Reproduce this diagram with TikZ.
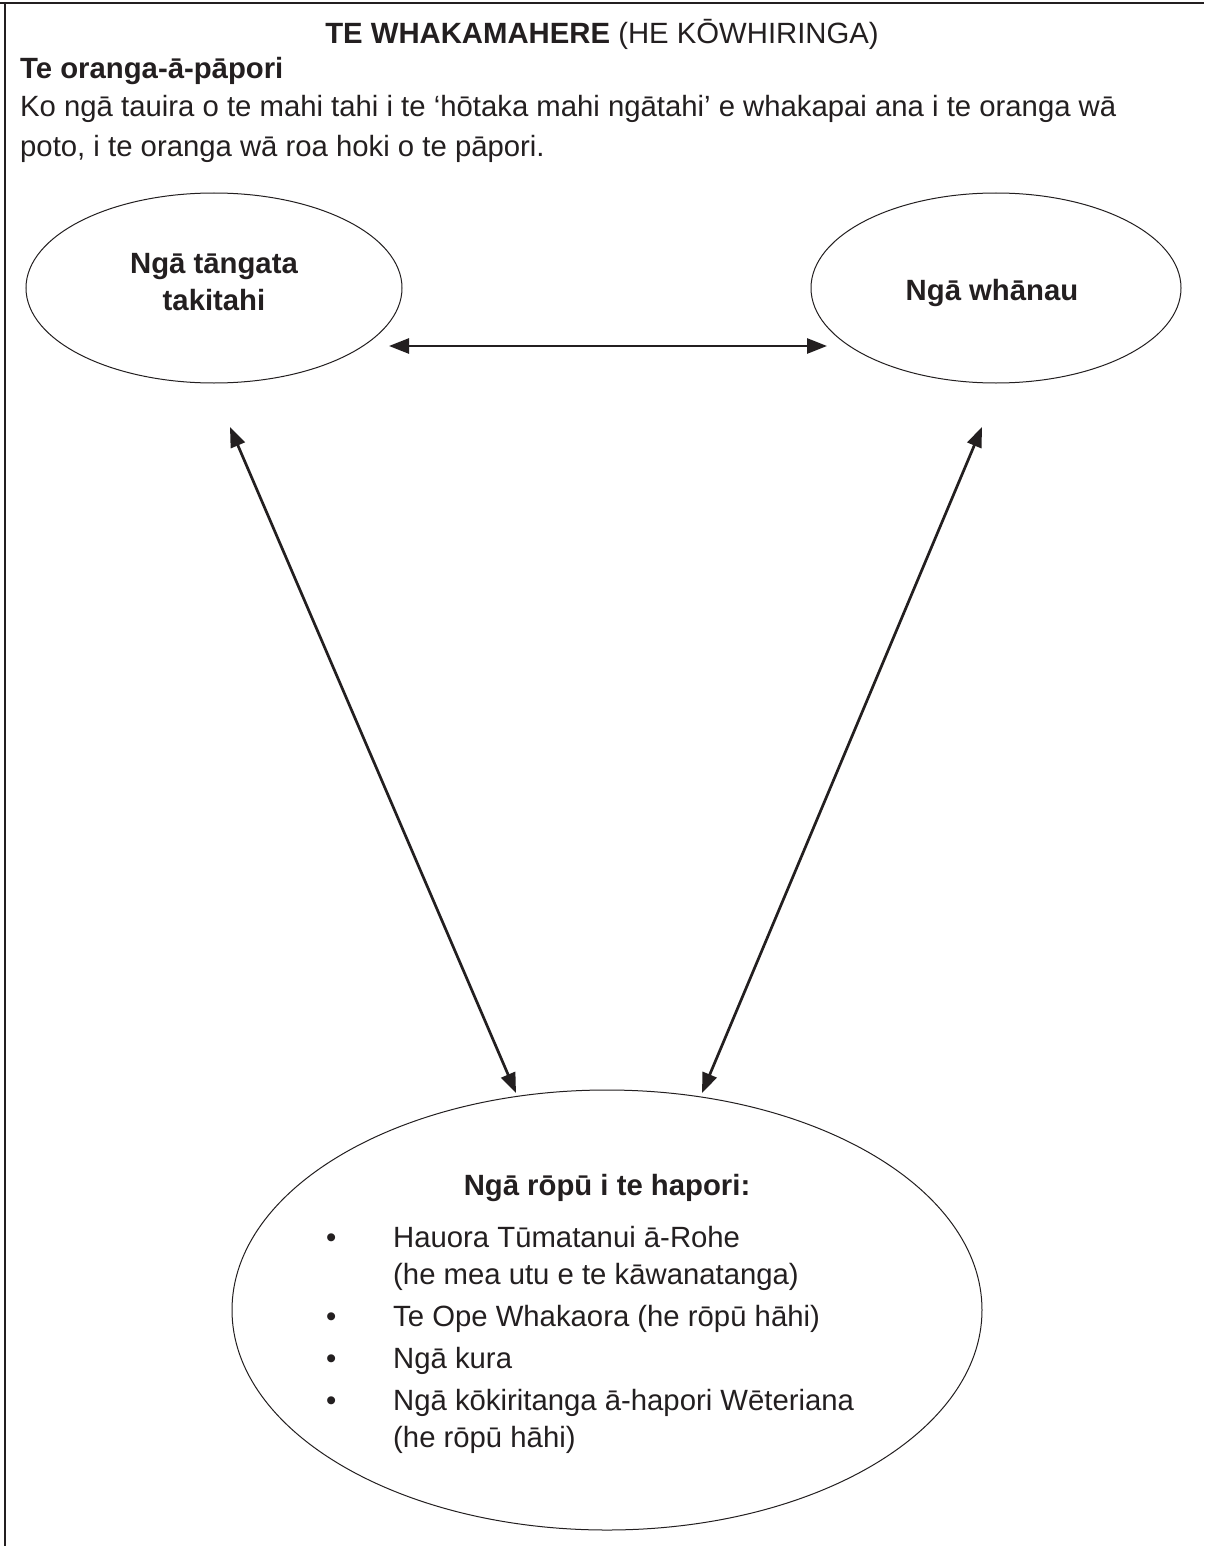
\documentclass[tikz,border=0pt]{standalone}
\usepackage{fontspec}
\setmainfont{Liberation Sans}
\usetikzlibrary{arrows.meta,shapes.geometric}
\definecolor{ink}{HTML}{231F20}
\begin{document}
\begin{tikzpicture}[x=1pt,y=-1pt,
  every node/.style={inner sep=0pt, text=ink, font=\fontsize{29.3}{35}\selectfont},
  oval/.style={draw=ink, ellipse, line width=1pt, inner sep=0pt},
  biarrow/.style={{Triangle[length=20pt,width=15pt]}-{Triangle[length=20pt,width=15pt]}, line width=2.7pt, draw=ink},
  lt/.style={anchor=base west},
  ct/.style={anchor=base},
  bt/.style={anchor=base, font=\fontsize{29.3}{35}\selectfont\bfseries},
  ]
\useasboundingbox (0,0) rectangle (1204,1546);
\fill[white] (0,0) rectangle (1204,1546);
% frame
\draw[ink, line width=2.2pt] (0,3) -- (1204,3);
\draw[ink, line width=1.5pt] (5,3) -- (5,1546);
% header texts
\node[ct] (title) at (602,44) {\textbf{TE WHAKAMAHERE} (HE KŌWHIRINGA)};
\node[lt, font=\fontsize{29.3}{35}\selectfont\bfseries] (head) at (20,79) {Te oranga-ā-pāpori};
\node[lt] (p1) at (20,117) {Ko ngā tauira o te mahi tahi i te ‘hōtaka mahi ngātahi’ e whakapai ana i te oranga wā};
\node[lt] (p2) at (20,157) {poto, i te oranga wā roa hoki o te pāpori.};
% ellipses
\node[oval, minimum width=376pt, minimum height=190pt] (L) at (214,288) {};
\node[oval, minimum width=370pt, minimum height=190pt] (R) at (996,288) {};
\node[oval, minimum width=750pt, minimum height=440pt] (B) at (607,1310) {};
% ellipse texts
\node[bt] (L1) at (214,273) {Ngā tāngata};
\node[bt] (L2) at (214,310) {takitahi};
\node[bt] (R1) at (992,300) {Ngā whānau};
\node[bt] (B0) at (607,1195) {Ngā rōpū i te hapori:};
\node[lt] (b1) at (326,1247) {•};
\node[lt] (i1a) at (393,1247) {Hauora Tūmatanui ā-Rohe};
\node[lt] (i1b) at (393,1284) {(he mea utu e te kāwanatanga)};
\node[lt] (b2) at (326,1326) {•};
\node[lt] (i2) at (393,1326) {Te Ope Whakaora (he rōpū hāhi)};
\node[lt] (b3) at (326,1368) {•};
\node[lt] (i3) at (393,1368) {Ngā kura};
\node[lt] (b4) at (326,1410) {•};
\node[lt] (i4a) at (393,1410) {Ngā kōkiritanga ā-hapori Wēteriana};
\node[lt] (i4b) at (393,1447) {(he rōpū hāhi)};
% connector ends
\coordinate (h1) at (389,346);
\coordinate (h2) at (827,346);
\coordinate (l1) at (230,427);
\coordinate (l2) at (516,1093);
\coordinate (r1) at (982,427);
\coordinate (r2) at (702,1093);
\draw[biarrow] (h1) -- (h2);
\draw[biarrow] (l1) -- (l2);
\draw[biarrow] (r1) -- (r2);
\end{tikzpicture}
\end{document}
